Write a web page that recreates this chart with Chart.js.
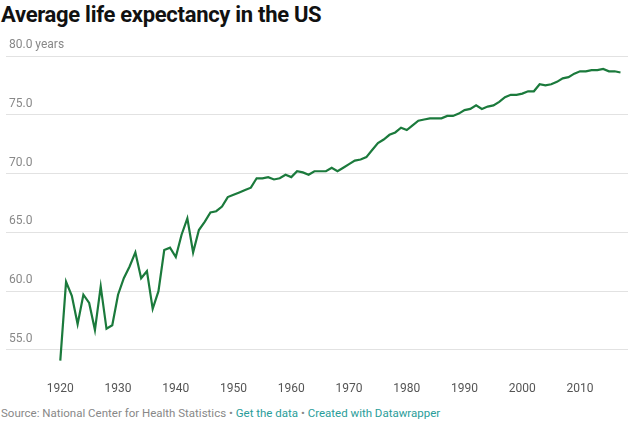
<!DOCTYPE html>
<html>
<head>
<meta charset="utf-8">
<script src="https://cdn.jsdelivr.net/npm/chart.js@4"></script>
<style>
  body { margin: 0; width: 640px; height: 427px; background: #fff; font-family: Roboto, "Noto Sans", sans-serif; overflow: hidden; }
  h1 { margin: 0; position: absolute; left: 1px; top: 2px; font-size: 22px; font-weight: 700; color: #111; letter-spacing: -0.3px; }
  #wrap { position: absolute; left: 0; top: 36px; width: 640px; height: 366px; }
  #foot { position: absolute; left: 1px; top: 406px; font-size: 11.5px; color: #888; }
  #foot a { color: #2a9d9a; text-decoration: none; }
</style>
</head>
<body>
<h1>Average life expectancy in the US</h1>
<div id="wrap"><canvas id="myChart"></canvas></div>
<div id="foot">Source: National Center for Health Statistics • <a>Get the data</a> • <a>Created with Datawrapper</a></div>
<script>
let years = []
for (let y = 1920; y <= 2017; y++) years.push(y)

let lifeExpectancy = [
  54.1, 60.8, 59.6, 57.2, 59.7, 59.0, 56.7, 60.4, 56.8, 57.1,
  59.7, 61.1, 62.1, 63.3, 61.1, 61.7, 58.5, 60.0, 63.5, 63.7,
  62.9, 64.8, 66.2, 63.3, 65.2, 65.9, 66.7, 66.8, 67.2, 68.0,
  68.2, 68.4, 68.6, 68.8, 69.6, 69.6, 69.7, 69.5, 69.6, 69.9,
  69.7, 70.2, 70.1, 69.9, 70.2, 70.2, 70.2, 70.5, 70.2, 70.5,
  70.8, 71.1, 71.2, 71.4, 72.0, 72.6, 72.9, 73.3, 73.5, 73.9,
  73.7, 74.1, 74.5, 74.6, 74.7, 74.7, 74.7, 74.9, 74.9, 75.1,
  75.4, 75.5, 75.8, 75.5, 75.7, 75.8, 76.1, 76.5, 76.7, 76.7,
  76.8, 77.0, 77.0, 77.6, 77.5, 77.6, 77.8, 78.1, 78.2, 78.5,
  78.7, 78.7, 78.8, 78.8, 78.9, 78.7, 78.7, 78.6
]

let xTicks = [1920, 1930, 1940, 1950, 1960, 1970, 1980, 1990, 2000, 2010]
let yTicks = [55, 60, 65, 70, 75, 80]

let points = years.map((y, i) => ({x: y, y: lifeExpectancy[i]}))

new Chart(document.getElementById('myChart'), {
  type: 'line',
  data: {
    datasets: [{
      data: points,
      borderColor: '#1b7a3c',
      borderWidth: 2.2,
      pointRadius: 0,
      fill: false,
      tension: 0
    }]
  },
  options: {
    responsive: true,
    maintainAspectRatio: false,
    animation: false,
    layout: { padding: { top: 20, right: 12, left: 0, bottom: 0 } },
    plugins: { legend: { display: false }, tooltip: { enabled: false } },
    scales: {
      x: {
        type: 'linear',
        min: 1910.6,
        max: 2018.3,
        afterBuildTicks: axis => { axis.ticks = xTicks.map(v => ({value: v})) },
        grid: { display: false },
        border: { display: false },
        ticks: { color: '#555', font: { size: 12, family: 'Roboto' }, padding: 6, callback: v => String(v) }
      },
      y: {
        min: 53.5,
        max: 80,
        afterBuildTicks: axis => { axis.ticks = yTicks.map(v => ({value: v})) },
        grid: { color: '#e2e2e2', drawTicks: false },
        border: { display: false },
        ticks: {
          mirror: true,
          padding: 3,
          labelOffset: -11,
          color: '#888',
          font: { size: 12, family: 'Roboto' },
          callback: v => v === 80 ? '80.0 years' : v.toFixed(1)
        }
      }
    }
  }
})
</script>
</body>
</html>
